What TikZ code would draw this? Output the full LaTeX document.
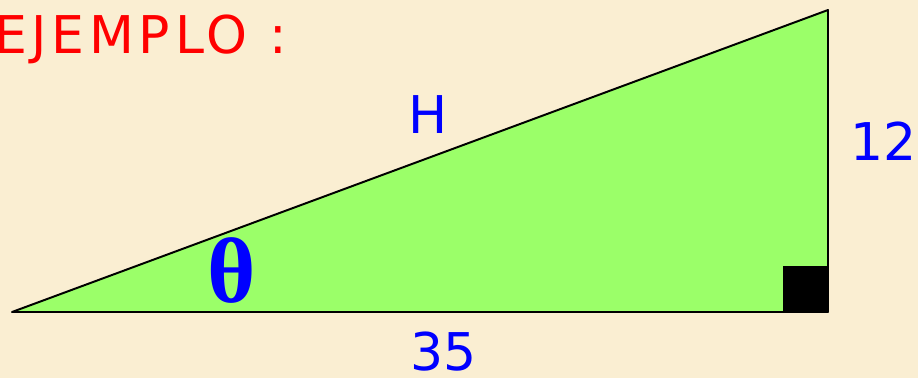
\documentclass[tikz,border=0pt]{standalone}
\usepackage{fontspec}
\setmainfont{DejaVu Sans}
\newfontfamily\thetafont{Liberation Serif}
\definecolor{parchment}{RGB}{250,238,210}
\definecolor{trigreen}{RGB}{155,255,105}
\tikzset{
  lbl/.style={text=blue,inner sep=0pt,font=\fontsize{37}{37}\selectfont},
  title/.style={text=red,inner sep=0pt,font=\addfontfeature{LetterSpace=9}\fontsize{37}{37}\selectfont}
}

\begin{document}
\begin{tikzpicture}[x=0.025cm,y=-0.025cm]

\fill[parchment] (0,0) rectangle (918,378);
\useasboundingbox (0,0) rectangle (918,378);

\coordinate (A) at (12,312);
\coordinate (B) at (828,312);
\coordinate (C) at (828,10);

\draw[fill=trigreen,line width=1.4pt,line join=round] (A) -- (B) -- (C) -- cycle;
\fill[black] (783,266) rectangle (B);

\node[title,anchor=base west] (ejemplo) at (-6,53) {EJEMPLO :};
\node[lbl,anchor=base] (hyp) at (428,133) {H};
\node[lbl,anchor=base west] (cat1) at (850,160) {12};
\node[lbl,anchor=base] (cat2) at (444,370) {35};
\node[text=blue,inner sep=0pt,anchor=base,font=\thetafont\bfseries\fontsize{66}{66}\selectfont] (ang) at (232,302) {θ};

\end{tikzpicture}
\end{document}
